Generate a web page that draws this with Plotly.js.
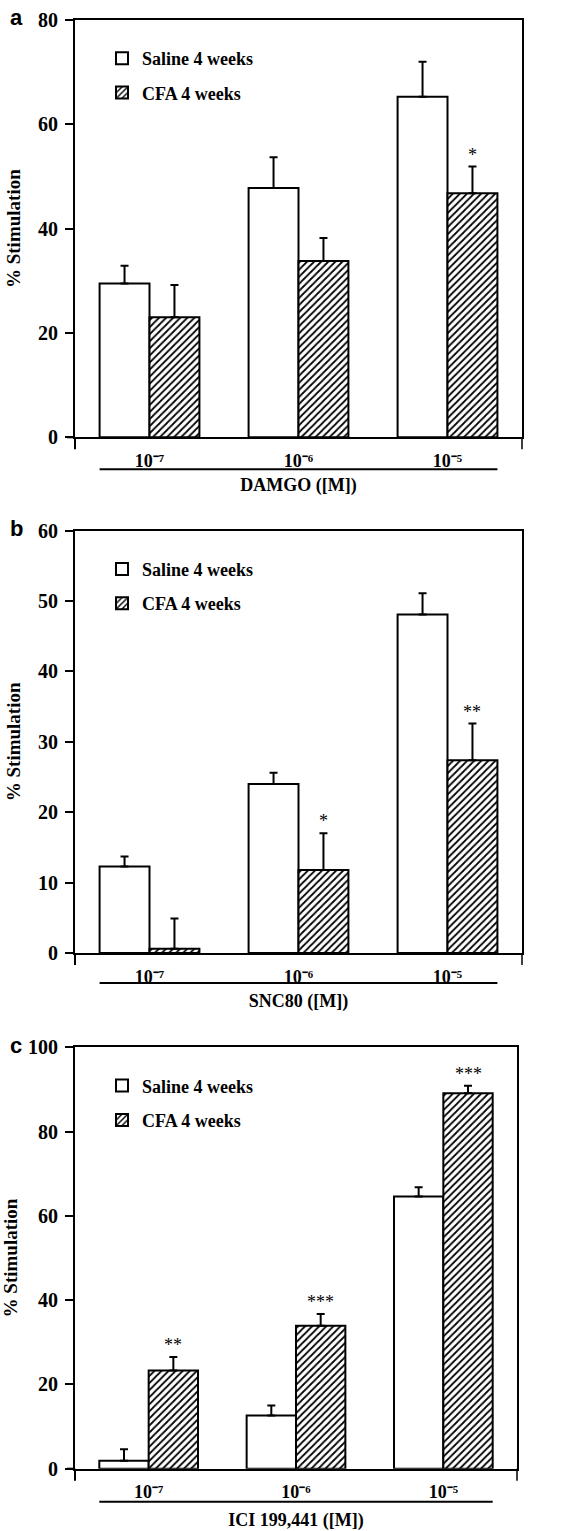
<!DOCTYPE html>
<html>
<head>
<meta charset="utf-8">
<script src="https://cdn.plot.ly/plotly-3.0.1.min.js"></script>
<style>html,body{margin:0;padding:0;background:#fff}#chart{width:584px;height:1531px}</style>
</head>
<body>
<div id="chart"></div>
<script>
// ---- data ----
const concLabels = ['10⁻⁷', '10⁻⁶', '10⁻⁵'];
const seriesNames = ['Saline 4 weeks', 'CFA 4 weeks'];
const panelLetters = ['a', 'b', 'c'];
const drugTitles = ['DAMGO ([M])', 'SNC80 ([M])', 'ICI 199,441 ([M])'];
const yAxisTitle = '% Stimulation';

const damgoSaline = [29.5, 47.8, 65.3];
const damgoSalineErr = [3.4, 5.9, 6.7];
const damgoCFA = [23.0, 33.8, 46.8];
const damgoCFAErr = [6.2, 4.4, 5.1];
const damgoSig = ['', '', '*'];

const snc80Saline = [12.3, 24.0, 48.1];
const snc80SalineErr = [1.4, 1.6, 3.0];
const snc80CFA = [0.6, 11.8, 27.4];
const snc80CFAErr = [4.3, 5.2, 5.2];
const snc80Sig = ['', '*', '**'];

const iciSaline = [1.9, 12.6, 64.6];
const iciSalineErr = [2.7, 2.4, 2.2];
const iciCFA = [23.3, 33.9, 89.1];
const iciCFAErr = [3.2, 2.8, 1.8];
const iciSig = ['**', '***', '***'];

const yRanges = [[0, 80], [0, 60], [0, 100]];
const yDticks = [20, 10, 20];

// ---- layout helpers ----
const W = 584, H = 1531;
const panels = [
  {sal: damgoSaline, salE: damgoSalineErr, cfa: damgoCFA, cfaE: damgoCFAErr, sig: damgoSig,
   xpx: [75, 522], ypx: [20, 437.3], ulOff: 32, titleStandoff: 8},
  {sal: snc80Saline, salE: snc80SalineErr, cfa: snc80CFA, cfaE: snc80CFAErr, sig: snc80Sig,
   xpx: [75, 522], ypx: [530.7, 953], ulOff: 30, titleStandoff: 9},
  {sal: iciSaline, salE: iciSalineErr, cfa: iciCFA, cfaE: iciCFAErr, sig: iciSig,
   xpx: [75, 517], ypx: [1047.3, 1468.7], ulOff: 33, titleStandoff: 16}
];

const serif = 'Liberation Serif, Times New Roman, serif';
const bargap = 0.33;
const halfGroup = (1 - bargap) / 2;      // half of group width in category units
const cfaOffset = halfGroup / 2;         // center of second bar

const traces = [];
const layout = {
  width: W, height: H,
  margin: {l: 0, r: 0, t: 0, b: 0},
  paper_bgcolor: '#fff', plot_bgcolor: '#fff',
  barmode: 'group', bargap: bargap, bargroupgap: 0,
  font: {family: serif, color: '#000', size: 18, weight: 'bold'},
  annotations: [], shapes: []
};

panels.forEach((p, k) => {
  const n = k === 0 ? '' : String(k + 1);
  const xa = 'x' + n, ya = 'y' + n;
  const legName = 'legend' + n;
  const errStyle = {type: 'data', symmetric: false, color: '#000', thickness: 2, width: 4};
  traces.push({
    type: 'bar', name: seriesNames[0], x: concLabels, y: p.sal, xaxis: xa, yaxis: ya,
    legend: legName, legendgroup: 'sal' + k,
    marker: {color: '#fff', line: {color: '#000', width: 2}},
    error_y: Object.assign({array: p.salE, arrayminus: p.salE.map(() => 0)}, errStyle),
    hoverinfo: 'y'
  });
  traces.push({
    type: 'bar', name: seriesNames[1], x: concLabels, y: p.cfa, xaxis: xa, yaxis: ya,
    legend: legName, legendgroup: 'cfa' + k,
    marker: {color: '#fff', line: {color: '#000', width: 2},
      pattern: {shape: '/', fgcolor: '#000', bgcolor: '#fff', size: 5, solidity: 0.35}},
    error_y: Object.assign({array: p.cfaE, arrayminus: p.cfaE.map(() => 0)}, errStyle),
    hoverinfo: 'y'
  });

  const xdom = [p.xpx[0] / W, p.xpx[1] / W];
  const ydom = [1 - p.ypx[1] / H, 1 - p.ypx[0] / H];
  const yPixH = p.ypx[1] - p.ypx[0];

  layout['xaxis' + n] = {
    domain: xdom, anchor: ya, type: 'category', range: [-0.5, 2.5],
    showline: true, linecolor: '#000', linewidth: 2, mirror: true,
    ticks: '', ticklabelstandoff: 6,
    tickfont: {family: serif, size: 18, weight: 'bold', color: '#000'},
    showgrid: false, zeroline: false, fixedrange: true,
    title: {text: drugTitles[k], font: {family: serif, size: 18, weight: 'bold', color: '#000'},
            standoff: p.titleStandoff}
  };
  layout['yaxis' + n] = {
    domain: ydom, anchor: xa, range: yRanges[k], dtick: yDticks[k], tick0: 0,
    showline: true, linecolor: '#000', linewidth: 2, mirror: true,
    ticks: 'outside', ticklen: 8, tickwidth: 2, tickcolor: '#000', ticklabelstandoff: 3,
    tickfont: {family: serif, size: 20, weight: 'bold', color: '#000'},
    showgrid: false, zeroline: false, fixedrange: true, automargin: false,
    title: {text: yAxisTitle, font: {family: serif, size: 19, weight: 'bold', color: '#000'}, standoff: 12}
  };
  layout[legName] = {
    x: 102 / W, y: 1 - (p.ypx[0] + 20) / H, xanchor: 'left', yanchor: 'top',
    bgcolor: 'rgba(0,0,0,0)', borderwidth: 0, tracegroupgap: 8, traceorder: 'grouped',
    font: {family: serif, size: 18, weight: 'bold', color: '#000'}
  };

  // panel letter
  layout.annotations.push({
    xref: 'paper', yref: 'paper', x: 16 / W, y: 1 - (p.ypx[0] - 2) / H,
    xanchor: 'center', yanchor: 'middle', showarrow: false, text: panelLetters[k],
    font: {family: 'Liberation Sans, Arial, sans-serif', size: 22, weight: 'bold', color: '#000'}
  });
  // significance stars
  p.sig.forEach((s, i) => {
    if (!s) return;
    layout.annotations.push({
      xref: xa, yref: ya, x: i + cfaOffset, y: p.cfa[i] + p.cfaE[i],
      xanchor: 'center', yanchor: 'bottom', yshift: 0, showarrow: false, text: s,
      font: {family: serif, size: 18, weight: 'normal', color: '#000'}
    });
  });
  // underline beneath concentration labels
  layout.shapes.push({
    type: 'line', xref: xa, yref: ya + ' domain',
    x0: -halfGroup, x1: 2 + halfGroup, y0: -p.ulOff / yPixH, y1: -p.ulOff / yPixH,
    line: {color: '#000', width: 2}
  });
  // axis-line extensions at the corner and below right frame
  layout.shapes.push({
    type: 'line', xref: 'paper', yref: 'paper',
    x0: p.xpx[0] / W, x1: p.xpx[0] / W, y0: 1 - p.ypx[1] / H, y1: 1 - (p.ypx[1] + 12) / H,
    line: {color: '#000', width: 2}
  });
  layout.shapes.push({
    type: 'line', xref: 'paper', yref: 'paper',
    x0: p.xpx[1] / W, x1: p.xpx[1] / W, y0: 1 - p.ypx[1] / H, y1: 1 - (p.ypx[1] + 12) / H,
    line: {color: '#000', width: 1.5}
  });
  layout.shapes.push({
    type: 'line', xref: 'paper', yref: 'paper',
    x0: (p.xpx[0] - 8) / W, x1: p.xpx[0] / W, y0: 1 - p.ypx[1] / H, y1: 1 - p.ypx[1] / H,
    line: {color: '#000', width: 2}
  });
});

Plotly.newPlot('chart', traces, layout, {displayModeBar: false, staticPlot: true});
</script>
</body>
</html>
